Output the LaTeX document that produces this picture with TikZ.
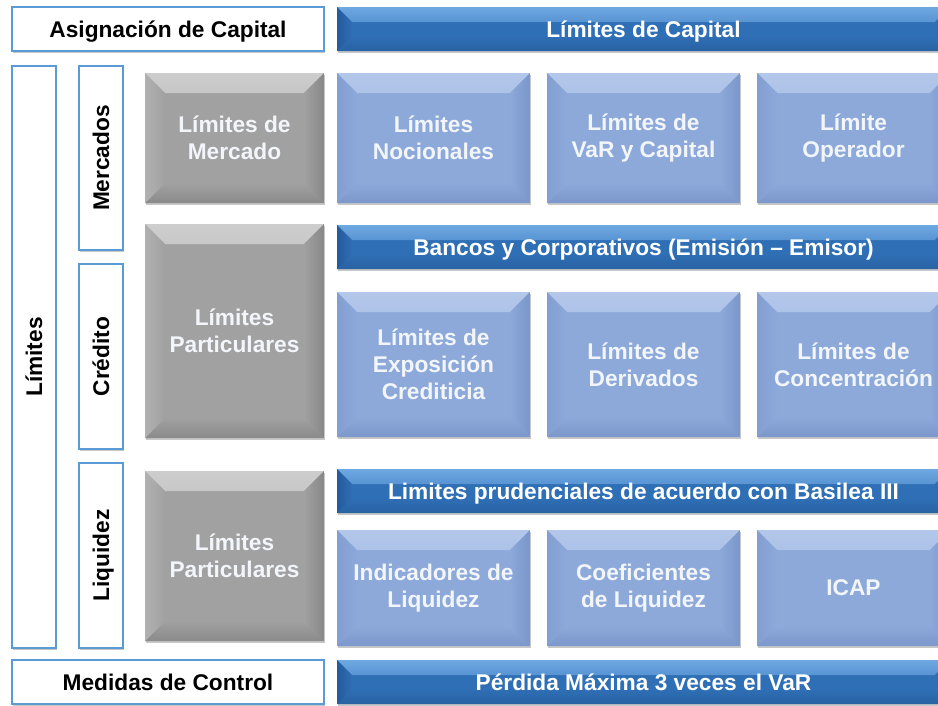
\documentclass[tikz,border=0pt]{standalone}
\usepackage{fontspec}
\setmainfont{Liberation Sans}
\usetikzlibrary{shadows}
\definecolor{edgeblue}{HTML}{5B9BD5}
\definecolor{barmain}{HTML}{2F6FB5}
\definecolor{bartop}{HTML}{6EA8E2}
\definecolor{barleft}{HTML}{235A9C}
\definecolor{barright}{HTML}{2966A9}
\definecolor{barbot}{HTML}{2862A3}
\definecolor{lbmain}{HTML}{8DA9DA}
\definecolor{lbtop}{HTML}{B3C7EA}
\definecolor{lbleft}{HTML}{839FD2}
\definecolor{lbright}{HTML}{7A96CA}
\definecolor{lbbot}{HTML}{7B97CB}
\definecolor{gymain}{HTML}{A1A1A1}
\definecolor{gytop}{HTML}{CDCDCD}
\definecolor{gyleft}{HTML}{B1B1B1}
\definecolor{gyright}{HTML}{888888}
\definecolor{gybot}{HTML}{8A8A8A}
\definecolor{lighttext}{HTML}{F2F5FA}
\tikzset{
  x=1pt, y=-1pt,
  txt/.style={font=\bfseries\fontsize{22.7}{27}\selectfont, align=center, inner sep=0pt},
  oneline/.style={text height=19.5pt, text depth=3.2pt},
  bev/.style n args={6}{path picture={
    \shade[top color=#3, bottom color=#2] (path picture bounding box.north west) -- (path picture bounding box.north east)
      -- ([shift={(-#1,#1)}]path picture bounding box.north east) -- ([shift={(#1,#1)}]path picture bounding box.north west) -- cycle;
    \shade[top color=#2, bottom color=#6] (path picture bounding box.south west) -- (path picture bounding box.south east)
      -- ([shift={(-#1,-#1)}]path picture bounding box.south east) -- ([shift={(#1,-#1)}]path picture bounding box.south west) -- cycle;
    \shade[left color=#4, right color=#2] (path picture bounding box.north west) -- ([shift={(#1,#1)}]path picture bounding box.north west)
      -- ([shift={(#1,-#1)}]path picture bounding box.south west) -- (path picture bounding box.south west) -- cycle;
    \shade[left color=#2, right color=#5] (path picture bounding box.north east) -- ([shift={(-#1,#1)}]path picture bounding box.north east)
      -- ([shift={(-#1,-#1)}]path picture bounding box.south east) -- (path picture bounding box.south east) -- cycle;
  }},
  shad/.style={drop shadow={shadow xshift=1pt, shadow yshift=-2pt, opacity=0.22, fill=black}},
  whitebox/.style={txt, oneline, draw=edgeblue, line width=1.5pt, fill=white, text=black, shad},
  bar/.style={txt, oneline, fill=barmain, text=white, minimum height=44pt, minimum width=613pt, shad,
    bev={15}{barmain}{bartop}{barleft}{barright}{barbot}},
  lbox/.style={txt, fill=lbmain, text=lighttext, minimum width=193pt, shad,
    bev={20}{lbmain}{lbtop}{lbleft}{lbright}{lbbot}},
  gbox/.style={txt, fill=gymain, text=lighttext, minimum width=179pt, shad,
    bev={20}{gymain}{gytop}{gyleft}{gyright}{gybot}},
}
\begin{document}
\begin{tikzpicture}
\useasboundingbox[fill=white] (0,0) rectangle (938,705);
% top row
\node[whitebox, minimum width=312pt, minimum height=44pt] (asig) at (168,29) {Asignación de Capital};
\node[bar] (cap) at (643.5,29) {Límites de Capital};
% vertical labels
\node[whitebox, rotate=90, minimum width=582pt, minimum height=44pt] (lim) at (34,357) {Límites};
\node[whitebox, rotate=90, minimum width=184pt, minimum height=44pt] (merc) at (101,158) {Mercados};
\node[whitebox, rotate=90, minimum width=185pt, minimum height=44pt] (cred) at (101,356.5) {Crédito};
\node[whitebox, rotate=90, minimum width=185pt, minimum height=44pt] (liq) at (101,555.5) {Liquidez};
% gray boxes
\node[gbox, minimum height=130pt] (g1) at (234.5,138) {Límites de\\Mercado};
\node[gbox, minimum height=214pt] (g2) at (234.5,331) {Límites\\Particulares};
\node[gbox, minimum height=170pt] (g3) at (234.5,556) {Límites\\Particulares};
% row 1
\node[lbox, minimum height=130pt] (r1a) at (433.5,138) {Límites\\Nocionales};
\node[lbox, minimum height=130pt] (r1b) at (643.5,138) {Límites de\\VaR y Capital};
\node[lbox, minimum height=130pt] (r1c) at (853.5,138) {Límite\\Operador};
% credit
\node[bar] (banc) at (643.5,247) {Bancos y Corporativos (Emisión – Emisor)};
\node[lbox, minimum height=145pt] (r2a) at (433.5,364.5) {Límites de\\Exposición\\Crediticia};
\node[lbox, minimum height=145pt] (r2b) at (643.5,364.5) {Límites de\\Derivados};
\node[lbox, minimum height=145pt] (r2c) at (853.5,364.5) {Límites de\\Concentración};
% liquidity
\node[bar] (bas) at (643.5,491) {Limites prudenciales de acuerdo con Basilea III};
\node[lbox, minimum height=116pt] (r3a) at (433.5,588) {Indicadores de\\Liquidez};
\node[lbox, minimum height=116pt] (r3b) at (643.5,588) {Coeficientes\\de Liquidez};
\node[lbox, minimum height=116pt] (r3c) at (853.5,588) {ICAP};
% bottom
\node[whitebox, minimum width=312pt, minimum height=44pt] (med) at (168,682) {Medidas de Control};
\node[bar] (perd) at (643.5,682) {Pérdida Máxima 3 veces el VaR};
\end{tikzpicture}
\end{document}
